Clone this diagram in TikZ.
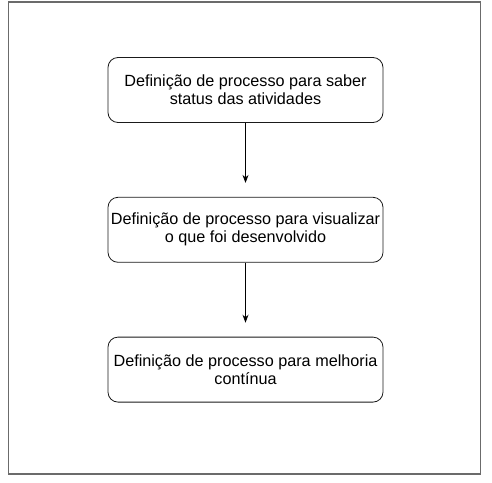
\documentclass[tikz,border=0pt]{standalone}
\usepackage{fontspec}
\setmainfont{Liberation Sans}
\usetikzlibrary{positioning,arrows.meta}
\definecolor{frameclr}{HTML}{6b6b6b}
\definecolor{boxclr}{HTML}{1a1a1a}

\begin{document}
\begin{tikzpicture}[
  x=1pt, y=-1pt,
  font=\fontsize{16.2}{18}\selectfont,
  node distance=74pt,
  stepbox/.style={
    rectangle, rounded corners=10pt, draw=boxclr, line width=0.8pt,
    minimum width=275pt, minimum height=65pt, align=center, fill=white,
    inner xsep=1pt,
  },
  arrow/.style={-{Stealth[length=8pt,width=6pt]}, line width=0.8pt, shorten >=14pt},
]
\useasboundingbox (0,0) rectangle (492,482);

% Outer frame
\node[draw=frameclr, line width=1.4pt, minimum width=472pt, minimum height=472pt,
  inner sep=0pt] (frame) at (244.5,238) {};

% Process steps
\node[stepbox] (status) at (245.5,90) {Definição de processo para saber\\status das atividades};
\node[stepbox, below=of status] (visual) {Definição de processo para visualizar\\o que foi desenvolvido};
\node[stepbox, below=of visual] (melhoria) {Definição de processo para melhoria\\contínua};

% Arrows
\draw[arrow] (status) -- (visual);
\draw[arrow] (visual) -- (melhoria);

\end{tikzpicture}
\end{document}
